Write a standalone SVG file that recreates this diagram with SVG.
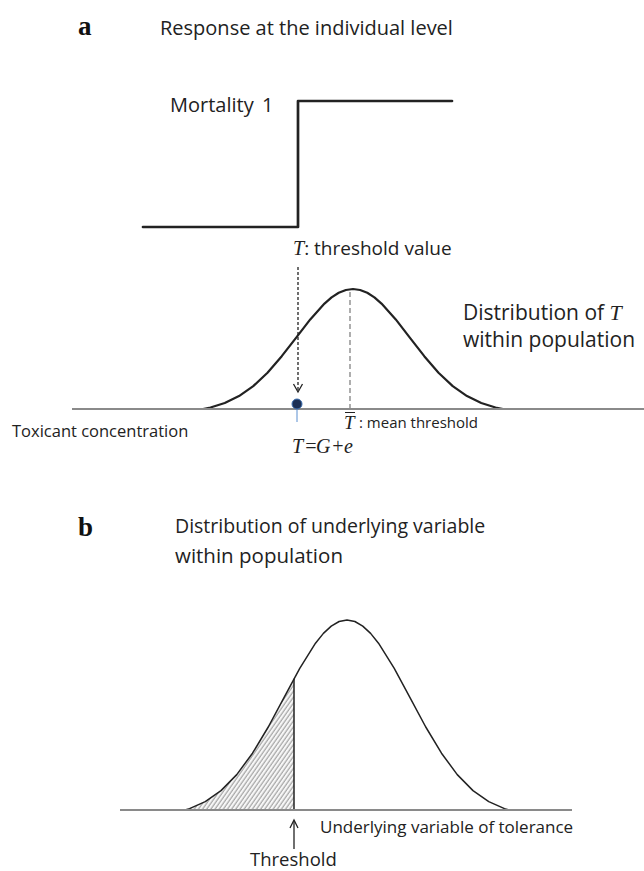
<svg xmlns="http://www.w3.org/2000/svg" width="644" height="871" viewBox="0 0 644 871">
<style>
.lbl{font-family:"Open Sans","Noto Sans",sans-serif;fill:#222}
.math{font-family:"Liberation Serif","Times New Roman",serif;font-style:italic;fill:#222}
.panel{font-family:"Liberation Serif","Times New Roman",serif;font-weight:bold;font-size:27px;fill:#111}
.curve{fill:none;stroke:#222;stroke-linejoin:round;stroke-linecap:round}
.axis{stroke:#8a8a8a;stroke-width:2}
</style>
<defs>
<pattern id="hatch" patternUnits="userSpaceOnUse" width="3.4" height="10" patternTransform="rotate(35)">
<rect width="3.4" height="10" fill="#f7f7f7"/>
<line x1="1" y1="0" x2="1" y2="10" stroke="#6e6e6e" stroke-width="0.8"/>
</pattern>
</defs>

<g id="panel-a">
<text class="panel" x="78" y="35">a</text>
<text class="lbl" x="160" y="35" font-size="20">Response at the individual level</text>

<g id="step-response">
<polyline class="curve" points="143,227 298,227 298,101 452,101" stroke="#333" stroke-width="2.7" stroke-linecap="butt" stroke-linejoin="miter"/>
<text class="lbl" x="170" y="112" font-size="20">Mortality<tspan x="262">1</tspan></text>
</g>

<g id="threshold-label">
<text x="293" y="255" font-size="19"><tspan class="math" font-size="20">T</tspan><tspan class="lbl">: threshold value</tspan></text>
</g>

<g id="distribution-a">
<polyline class="curve" stroke-width="2.2" points="203,409 210.5,407.5 224.75,403 239,396.1 253.25,386.1 267.5,372.7 281.75,356.2 296,337.8 310.25,319.4 324.5,303.6 331.6,297.4 338.75,292.8 345.9,290 353,289 360.1,290 367.25,292.8 374.4,297.4 381.5,303.6 395.75,319.4 410,337.8 424.25,356.2 438.5,372.7 452.75,386.1 467,396.1 481.25,403 495.5,407.5 503,409"/>
<line x1="350" y1="292" x2="350" y2="408" stroke="#9a9a9a" stroke-width="1.6" stroke-dasharray="5 3"/>
<text x="463" y="320" font-size="21"><tspan class="lbl">Distribution of </tspan><tspan class="math" font-size="22">T</tspan></text>
<text class="lbl" x="463" y="347" font-size="21">within population</text>
</g>

<g id="axis-a">
<line class="axis" x1="72" y1="409" x2="644" y2="409" stroke-width="1.6"/>
<text class="lbl" x="12" y="437" font-size="16.5">Toxicant concentration</text>
</g>

<g id="mean-threshold">
<text class="math" x="344" y="429" font-size="19">T</text>
<line x1="345" y1="412.5" x2="355" y2="412.5" stroke="#222" stroke-width="1"/>
<text class="lbl" x="359" y="428" font-size="15">: mean threshold</text>
</g>

<g id="individual-point">
<line x1="297" y1="409" x2="297" y2="422" stroke="#5b8fd0" stroke-width="1"/>
<circle cx="297" cy="404" r="5" fill="#1b2f55" stroke="#3d6fb0" stroke-width="1"/>
<text class="math" x="292 304 316 331 344" y="453" font-size="20">T=G+e</text>
</g>
</g>

<g id="connectors">
<line x1="298" y1="267" x2="298" y2="391" stroke="#222" stroke-width="1.3" stroke-dasharray="3 2"/>
<polyline points="293.5,384 298,392 302.5,384" fill="none" stroke="#222" stroke-width="1.3"/>
<line x1="294" y1="849" x2="294" y2="821" stroke="#222" stroke-width="1.3"/>
<polyline points="290,828 294,820 298,828" fill="none" stroke="#222" stroke-width="1.3"/>
</g>

<g id="panel-b">
<text class="panel" x="78" y="536">b</text>
<text class="lbl" x="175" y="533" font-size="19.5">Distribution of underlying variable</text>
<text class="lbl" x="175" y="563" font-size="20.5">within population</text>

<g id="distribution-b">
<polygon fill="url(#hatch)" stroke="none" points="185,810 189.5,808.6 205.25,801.6 221,790.6 236.75,774.6 252.5,753.2 268.25,727 284,697.6 294,678.7 294,810"/>
<polyline class="curve" stroke-width="1.5" points="185,810 189.5,808.6 205.25,801.6 221,790.6 236.75,774.6 252.5,753.2 268.25,727 284,697.6 299.75,668.4 315.5,643.2 323.4,633.4 331.25,626.1 339.1,621.5 347,620 354.9,621.5 362.75,626.1 370.6,633.4 378.5,643.2 394.25,668.4 410,697.6 425.75,727 441.5,753.2 457.25,774.6 473,790.6 488.75,801.6 504.5,808.6 509,810"/>
<line x1="294" y1="678.7" x2="294" y2="810" stroke="#222" stroke-width="1.5"/>
</g>

<g id="axis-b">
<line class="axis" x1="120" y1="810" x2="572" y2="810"/>
<text class="lbl" x="320" y="833" font-size="17">Underlying variable of tolerance</text>
<text class="lbl" x="250" y="866" font-size="18.5">Threshold</text>
</g>
</g>
</svg>
